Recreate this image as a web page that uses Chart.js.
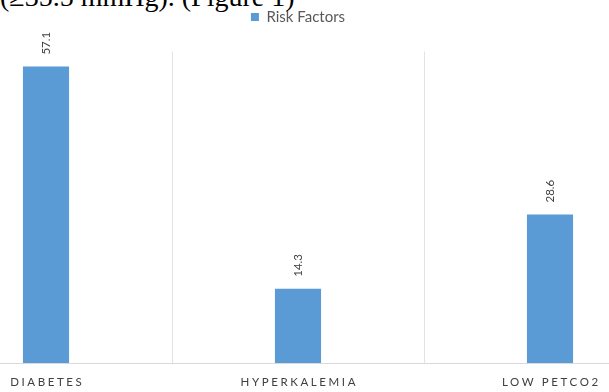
<!DOCTYPE html>
<html>
<head>
<meta charset="utf-8">
<script src="https://cdn.jsdelivr.net/npm/chart.js@4.4.1/dist/chart.umd.min.js"></script>
<style>
  html, body { margin: 0; padding: 0; background: #fff; overflow: hidden; }
  body { width: 609px; height: 392px; position: relative; }
  #caption { position: absolute; left: 0; top: -17.5px; font: 28px/28px "Liberation Serif", "Times New Roman", serif; color: #000; white-space: nowrap; }
  #c { position: absolute; left: -80px; top: 0; }
</style>
</head>
<body>
<div id="caption">(≥35.5 mmHg). (Figure 1)</div>
<canvas id="c" width="756" height="392"></canvas>
<script>
const categories = ["DIABETES", "HYPERKALEMIA", "LOW PETCO2"];
const seriesName = "Risk Factors";
const riskValues = [57.1, 14.3, 28.6];

const legendSpacer = {
  id: 'legendSpacer',
  beforeInit(chart) {
    const orig = chart.legend.fit;
    chart.legend.fit = function () { orig.bind(chart.legend)(); this.height += 17; };
  }
};

const labelsPlugin = {
  id: 'customLabels',
  afterDatasetsDraw(chart) {
    const ctx = chart.ctx;
    const meta = chart.getDatasetMeta(0);
    ctx.save();
    ctx.fillStyle = '#404040';
    ctx.font = '11.5px Lato, "Open Sans", sans-serif';
    ctx.textAlign = 'left';
    ctx.textBaseline = 'middle';
    meta.data.forEach((bar, i) => {
      const v = chart.data.datasets[0].data[i];
      ctx.save();
      ctx.translate(bar.x, bar.y - 12);
      ctx.rotate(-Math.PI / 2);
      ctx.fillText(v.toFixed(1), 0, 0);
      ctx.restore();
    });
    // category labels with letter spacing
    const xs = chart.scales.x;
    ctx.font = '11.5px Lato, "Open Sans", sans-serif';
    ctx.letterSpacing = '2.6px';
    ctx.textAlign = 'center';
    ctx.fillStyle = '#404040';
    categories.forEach((lab, i) => {
      ctx.fillText(lab, xs.getPixelForValue(i) + 1.3, chart.chartArea.bottom + 19);
    });
    ctx.restore();
  }
};

new Chart(document.getElementById('c'), {
  type: 'bar',
  data: {
    labels: categories,
    datasets: [{
      label: seriesName,
      data: riskValues,
      backgroundColor: '#5B9BD5',
      borderWidth: 0,
      barPercentage: 0.183,
      categoryPercentage: 1
    }]
  },
  options: {
    responsive: false,
    animation: false,
    layout: { padding: { top: 0, bottom: 29, left: 0, right: 0 } },
    plugins: {
      legend: {
        position: 'top',
        labels: {
          boxWidth: 8, boxHeight: 8, padding: 9.5,
          color: '#595959',
          font: { family: 'Lato, "Open Sans", sans-serif', size: 15 }
        }
      },
      tooltip: { enabled: false }
    },
    scales: {
      x: {
        offset: true,
        grid: { display: true, offset: true, color: '#e3e3e3', drawTicks: false },
        border: { display: true, color: '#d9d9d9' },
        ticks: { display: false }
      },
      y: {
        display: false,
        min: 0, max: 60
      }
    }
  },
  plugins: [legendSpacer, labelsPlugin]
});
</script>
</body>
</html>
